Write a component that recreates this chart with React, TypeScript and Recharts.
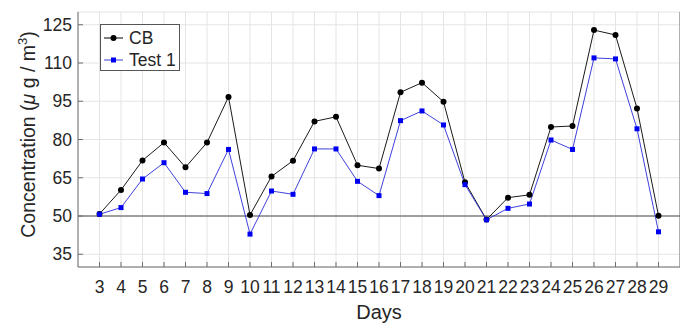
import React from 'react'
import {
  LineChart,
  Line,
  XAxis,
  YAxis,
  CartesianGrid,
  ReferenceLine,
  Label,
} from 'recharts'

const days = [3, 4, 5, 6, 7, 8, 9, 10, 11, 12, 13, 14, 15, 16, 17, 18, 19, 20, 21, 22, 23, 24, 25, 26, 27, 28, 29]
const cb = [50.8, 60.2, 71.8, 78.8, 69.1, 78.8, 96.7, 50.4, 65.5, 71.7, 87.1, 88.9, 69.9, 68.6, 98.5, 102.3, 94.8, 63.2, 48.6, 57.2, 58.3, 84.9, 85.3, 122.9, 121, 92.2, 50.1]
const test1 = [50.7, 53.3, 64.5, 70.9, 59.3, 58.8, 76.1, 42.9, 59.8, 58.5, 76.3, 76.3, 63.6, 58, 87.4, 91.2, 85.7, 62.3, 48.5, 53, 54.7, 79.8, 76.1, 112, 111.6, 84.2, 43.8]
const yTicks = [35, 50, 65, 80, 95, 110, 125]
const baseline = 50

const data = days.map((d, i) => ({ day: d, cb: cb[i], test1: test1[i] }))

const FONT = '"Liberation Sans", Arial, Helvetica, sans-serif'
const TEXT = '#262626'
const AXIS = '#6e6e6e'

const BottomTick = (props: any) => {
  const { x, y, payload } = props
  return (
    <g>
      <line x1={x} y1={y} x2={x} y2={y - 5} stroke={AXIS} strokeWidth={1} />
      <text x={x} y={y + 26} textAnchor="middle" fontSize={17.5} fill={TEXT} fontFamily={FONT}>
        {payload.value}
      </text>
    </g>
  )
}

const TopTick = (props: any) => {
  const { x, y } = props
  return <line x1={x} y1={y} x2={x} y2={y + 5} stroke={AXIS} strokeWidth={1} />
}

const LeftTick = (props: any) => {
  const { x, y, payload } = props
  return (
    <g>
      <line x1={x} y1={y} x2={x + 5} y2={y} stroke={AXIS} strokeWidth={1} />
      <text x={x - 6} y={y + 6} textAnchor="end" fontSize={17.5} fill={TEXT} fontFamily={FONT}>
        {payload.value}
      </text>
    </g>
  )
}

const RightTick = (props: any) => {
  const { x, y } = props
  return <line x1={x} y1={y} x2={x - 5} y2={y} stroke={AXIS} strokeWidth={1} />
}

const SquareDot = (props: any) => {
  const { cx, cy } = props
  if (cx == null || cy == null) return null
  return <rect x={cx - 2.5} y={cy - 2.5} width={5} height={5} fill="#0000f0" />
}

const CircleDot = (props: any) => {
  const { cx, cy } = props
  if (cx == null || cy == null) return null
  return <circle cx={cx} cy={cy} r={3} fill="#000" />
}

// legend box, overlaid on the plot (top-left corner)
const LegendBox = () => (
  <svg width={81} height={48} style={{ position: 'absolute', left: 100, top: 24 }}>
    <rect x={0.5} y={0.5} width={79} height={46} fill="#fff" stroke="#555" strokeWidth={1} />
    <line x1={4} y1={14} x2={23} y2={14} stroke="#000" strokeWidth={1} />
    <circle cx={13.5} cy={14} r={3} fill="#000" />
    <text x={29} y={20} fontSize={17.5} fill={TEXT} fontFamily={FONT}>CB</text>
    <line x1={4} y1={36} x2={23} y2={36} stroke="#3a3ad0" strokeWidth={1} />
    <rect x={11} y={33.5} width={5} height={5} fill="#0000f0" />
    <text x={29} y={42} fontSize={17.5} fill={TEXT} fontFamily={FONT}>Test 1</text>
  </svg>
)

const YLabel = (props: any) => {
  const { viewBox } = props
  const cy = viewBox.y + viewBox.height / 2 - 5
  const cx = 35
  return (
    <text
      x={cx}
      y={cy}
      transform={`rotate(-90, ${cx}, ${cy})`}
      textAnchor="middle"
      fontSize={19.5}
      fill={TEXT}
      fontFamily={FONT}
    >
      Concentration (<tspan fontStyle="italic">μ</tspan> g / m
      <tspan fontSize={13} dy={-8}>3</tspan>
      <tspan dy={8}>)</tspan>
    </text>
  )
}

export default function App() {
  return (
    <div style={{ position: 'fixed', left: 0, top: 0, width: 680, height: 323, background: '#fff', overflow: 'hidden' }}>
      <LineChart width={682} height={323} data={data} margin={{ top: 12, right: 0, left: 0, bottom: 0 }}>
        <CartesianGrid stroke="#e4e4e4" strokeWidth={1} />
        <XAxis
          dataKey="day"
          type="number"
          domain={[2, 30]}
          ticks={days}
          interval={0}
          height={56}
          tickSize={0}
          tickMargin={0}
          tickLine={false}
          axisLine={{ stroke: AXIS }}
          tick={<BottomTick />}
        >
          <Label
            value="Days"
            content={(p: any) => (
              <text
                x={p.viewBox.x + p.viewBox.width / 2}
                y={319}
                textAnchor="middle"
                fontSize={20}
                fill={TEXT}
                fontFamily={FONT}
              >
                Days
              </text>
            )}
          />
        </XAxis>
        <XAxis
          xAxisId="top"
          orientation="top"
          dataKey="day"
          type="number"
          domain={[2, 30]}
          ticks={days}
          interval={0}
          height={0}
          tickSize={0}
          tickMargin={0}
          tickLine={false}
          axisLine={{ stroke: AXIS }}
          tick={<TopTick />}
        />
        <YAxis
          type="number"
          domain={[30, 130]}
          ticks={yTicks}
          interval={0}
          width={78}
          tickSize={0}
          tickMargin={0}
          tickLine={false}
          axisLine={{ stroke: AXIS }}
          tick={<LeftTick />}
        >
          <Label content={<YLabel />} />
        </YAxis>
        <YAxis
          yAxisId="right"
          orientation="right"
          type="number"
          domain={[30, 130]}
          ticks={yTicks}
          interval={0}
          width={2}
          tickSize={0}
          tickMargin={0}
          tickLine={false}
          axisLine={{ stroke: AXIS }}
          tick={<RightTick />}
        />
        <ReferenceLine y={baseline} stroke="#4d4d4d" strokeWidth={1} />
        <Line
          type="linear"
          dataKey="cb"
          name="CB"
          stroke="#000"
          strokeWidth={0.9}
          dot={<CircleDot />}
          isAnimationActive={false}
        />
        <Line
          type="linear"
          dataKey="test1"
          name="Test 1"
          stroke="#2a2ad8"
          strokeWidth={0.9}
          dot={<SquareDot />}
          isAnimationActive={false}
        />
      </LineChart>
      <LegendBox />
    </div>
  )
}
